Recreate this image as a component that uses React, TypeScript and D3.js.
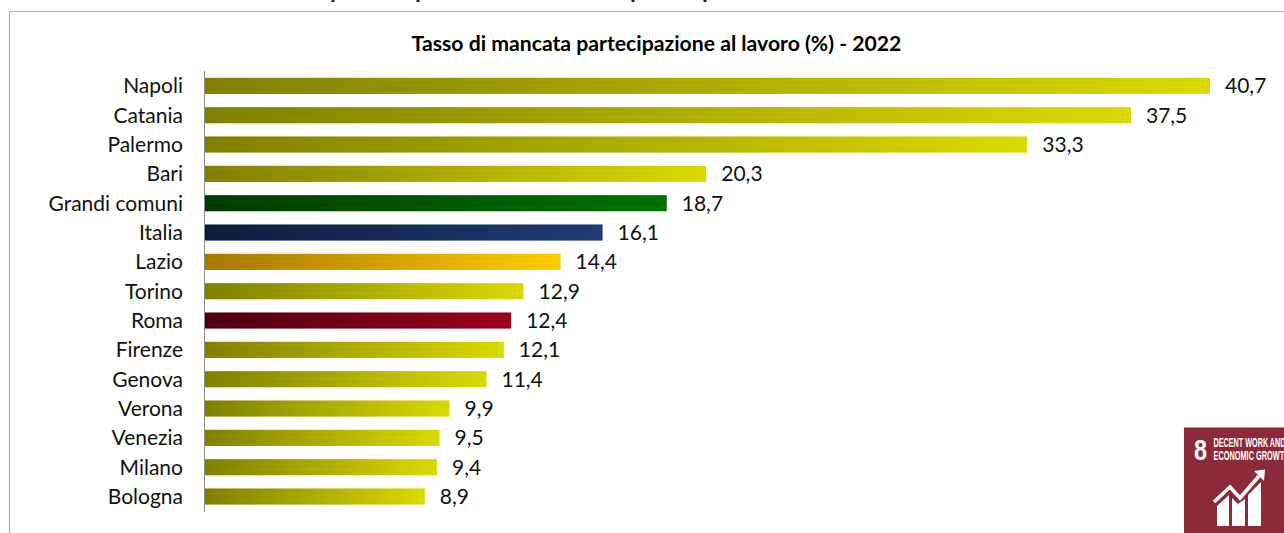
import React from "react";
import * as d3 from "d3";

const categories = ["Napoli","Catania","Palermo","Bari","Grandi comuni","Italia","Lazio","Torino","Roma","Firenze","Genova","Verona","Venezia","Milano","Bologna"];
const values = [40.7,37.5,33.3,20.3,18.7,16.1,14.4,12.9,12.4,12.1,11.4,9.9,9.5,9.4,8.9];
const groups = ["city","city","city","city","big","italy","region","city","rome","city","city","city","city","city","city"];
const gradientIds = ["city","big","italy","region","rome"];
const gradientFrom = ["#808000","#003C00","#0C1D3C","#A67700","#4E0010"];
const gradientTo = ["#DADA00","#007200","#1F3B73","#FFCC00","#9E001F"];
const clippedDescenders = [333, 418, 633, 705];

const W = 1284, H = 533;
const FONT = "Lato, Carlito, sans-serif";
const NARROW = "'Liberation Sans Narrow', 'Liberation Sans', sans-serif";

export default function App() {
  const x = d3.scaleLinear().domain([0, 40.7]).range([205, 1210]);
  const y = d3.scaleBand<string>().domain(categories).range([71.2, 511.2]).paddingInner(0.45).paddingOuter(0.225);
  const fmt = (v: number) => d3.format(".1f")(v).replace(".", ",");
  return (
    <div style={{ position: "fixed", left: 0, top: 0, width: W, height: H, background: "#fff" }}>
      <svg width={W} height={H} style={{ display: "block" }} fontFamily={FONT}>
        <defs>
          {gradientIds.map((id, i) => (
            <linearGradient key={id} id={"g-" + id} x1="0" x2="1" y1="0" y2="0">
              <stop offset="0" stopColor={gradientFrom[i]} />
              <stop offset="1" stopColor={gradientTo[i]} />
            </linearGradient>
          ))}
        </defs>
        <rect width={W} height={H} fill="#fff" />
        {clippedDescenders.map((d) => (
          <rect key={d} x={d - 1.5} y={0} width={3} height={2} fill="#222" />
        ))}
        <path d={`M9.5,${H}V11.5H${W}`} fill="none" stroke="#adadad" strokeWidth={1.2} />
        <text x={656.5} y={51} textAnchor="middle" fontWeight={700} fontSize={21.2} fill="#000">
          Tasso di mancata partecipazione al lavoro (%) - 2022
        </text>
        {categories.map((c, i) => {
          const b = y(c)!;
          const cy = b + y.bandwidth() / 2;
          return (
            <g key={c}>
              <rect x={x(0)} y={b} width={x(values[i]) - x(0)} height={y.bandwidth()} fill={`url(#g-${groups[i]})`} />
              <text x={183} y={cy} dy="0.35em" textAnchor="end" fontSize={21} fill="#111">{c}</text>
              <text x={x(values[i]) + 15} y={cy} dy="0.35em" fontSize={21} fill="#111">{fmt(values[i])}</text>
            </g>
          );
        })}
        <line x1={204.5} x2={204.5} y1={71} y2={512} stroke="#8c8c8c" strokeWidth={1} />
        <g>
          <rect x={1184} y={427.5} width={100} height={105.5} fill="#8B2A38" />
          <text x={1194} y={459.5} fontFamily={NARROW} fontWeight={700} fontSize={30} fill="#fff" textLength={13} lengthAdjust="spacingAndGlyphs">8</text>
          <text x={1213.5} y={447} fontFamily={NARROW} fontWeight={700} fontSize={12.5} fill="#fff" textLength={72} lengthAdjust="spacingAndGlyphs">DECENT WORK AND</text>
          <text x={1213.5} y={460} fontFamily={NARROW} fontWeight={700} fontSize={12.5} fill="#fff" textLength={76} lengthAdjust="spacingAndGlyphs">ECONOMIC GROWTH</text>
          <path d="M1217,526V506L1229,495V526Z M1232,526V498L1238,504L1245,499V526Z M1248,526V495L1261,482V526Z" fill="#fff" />
          <path d="M1214,502L1230,487L1240,498L1259,476" fill="none" stroke="#fff" strokeWidth={3.6} />
          <path d="M1254,471L1265,469.5L1264,481Z" fill="#fff" />
        </g>
      </svg>
    </div>
  );
}
